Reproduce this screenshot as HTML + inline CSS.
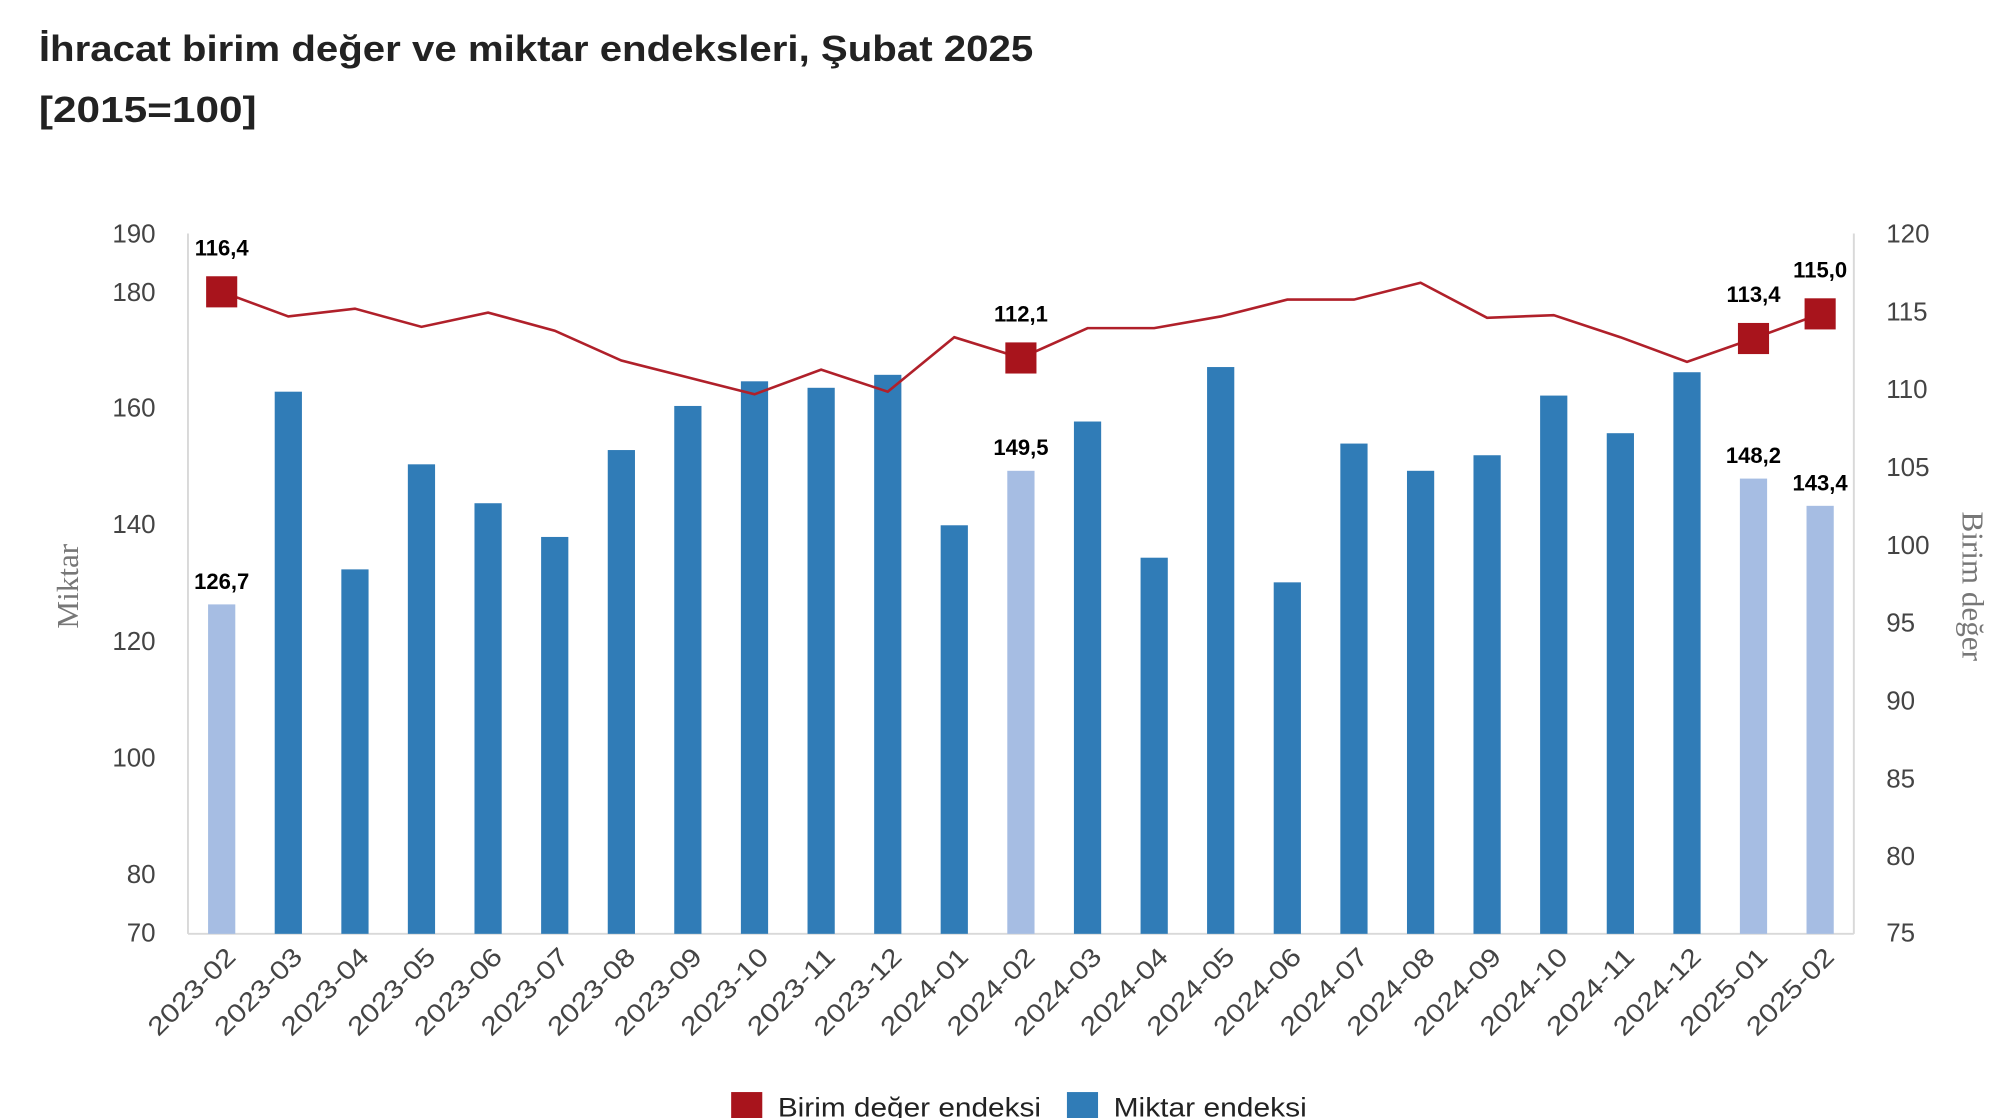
<!DOCTYPE html>
<html><head><meta charset="utf-8"><style>
html,body{margin:0;padding:0;background:#fff;}
svg{display:block;}
</style></head><body>
<svg width="2012" height="1118" viewBox="0 0 1552 862" preserveAspectRatio="none" xmlns="http://www.w3.org/2000/svg" font-family="Liberation Sans, sans-serif">
<text x="30" y="47" font-size="28" font-weight="bold" fill="#222" textLength="767" lengthAdjust="spacingAndGlyphs">İhracat birim değer ve miktar endeksleri, Şubat 2025</text>
<text x="30" y="94" font-size="28" font-weight="bold" fill="#222" textLength="168" lengthAdjust="spacingAndGlyphs">[2015=100]</text>
<line x1="145" y1="180" x2="145" y2="720" stroke="#d9d9d9" stroke-width="1.5"/>
<line x1="1430" y1="180" x2="1430" y2="720" stroke="#d9d9d9" stroke-width="1.5"/>
<line x1="145" y1="720" x2="1430" y2="720" stroke="#d9d9d9" stroke-width="1.5"/>
<g font-size="20" fill="#444" text-anchor="end">
<text x="120" y="187">190</text><text x="120" y="232">180</text><text x="120" y="321">160</text><text x="120" y="411">140</text><text x="120" y="501">120</text><text x="120" y="591">100</text><text x="120" y="681">80</text><text x="120" y="726">70</text>
</g>
<g font-size="20" fill="#444">
<text x="1455" y="187">120</text><text x="1455" y="247">115</text><text x="1455" y="307">110</text><text x="1455" y="367">105</text><text x="1455" y="427">100</text><text x="1455" y="487">95</text><text x="1455" y="547">90</text><text x="1455" y="607">85</text><text x="1455" y="667">80</text><text x="1455" y="726">75</text>
</g>
<text transform="translate(60,452) rotate(-90)" text-anchor="middle" font-family="Liberation Serif, serif" font-size="24" fill="#777">Miktar</text>
<text transform="translate(1514,452) rotate(90)" text-anchor="middle" font-family="Liberation Serif, serif" font-size="24" fill="#777">Birim değer</text>
<g fill="#307cb7">
<rect x="160.5" y="466" width="21" height="254" fill="#a6bde3"/>
<rect x="211.9" y="302" width="21" height="418"/>
<rect x="263.3" y="439" width="21" height="281"/>
<rect x="314.6" y="358" width="21" height="362"/>
<rect x="366" y="388" width="21" height="332"/>
<rect x="417.4" y="414" width="21" height="306"/>
<rect x="468.8" y="347" width="21" height="373"/>
<rect x="520.1" y="313" width="21" height="407"/>
<rect x="571.5" y="294" width="21" height="426"/>
<rect x="622.9" y="299" width="21" height="421"/>
<rect x="674.3" y="289" width="21" height="431"/>
<rect x="725.6" y="405" width="21" height="315"/>
<rect x="777" y="363" width="21" height="357" fill="#a6bde3"/>
<rect x="828.4" y="325" width="21" height="395"/>
<rect x="879.8" y="430" width="21" height="290"/>
<rect x="931.1" y="283" width="21" height="437"/>
<rect x="982.5" y="449" width="21" height="271"/>
<rect x="1033.9" y="342" width="21" height="378"/>
<rect x="1085.3" y="363" width="21" height="357"/>
<rect x="1136.6" y="351" width="21" height="369"/>
<rect x="1188" y="305" width="21" height="415"/>
<rect x="1239.4" y="334" width="21" height="386"/>
<rect x="1290.8" y="287" width="21" height="433"/>
<rect x="1342.1" y="369" width="21" height="351" fill="#a6bde3"/>
<rect x="1393.5" y="390" width="21" height="330" fill="#a6bde3"/>
</g>
<polyline fill="none" stroke="#b0202a" stroke-width="2" points="171,225 222.4,244 273.8,238 325.1,252 376.5,241 427.9,255 479.3,278 530.6,291 582,304 633.4,285 684.8,302 736.1,260 787.5,276 838.9,253 890.3,253 941.6,244 993,231 1044.4,231 1095.8,218 1147.1,245 1198.5,243 1249.9,260 1301.3,279 1352.6,261 1404,242"/>
<g fill="#a8141c">
<rect x="159" y="213" width="24" height="24"/>
<rect x="775.5" y="264" width="24" height="24"/>
<rect x="1340.6" y="249" width="24" height="24"/>
<rect x="1392" y="230" width="24" height="24"/>
</g>
<g font-size="17" font-weight="bold" fill="#000" text-anchor="middle">
<text x="171" y="197">116,4</text>
<text x="171" y="454">126,7</text>
<text x="787.5" y="248">112,1</text>
<text x="787.5" y="351">149,5</text>
<text x="1352.6" y="233">113,4</text>
<text x="1404" y="214">115,0</text>
<text x="1352.6" y="357">148,2</text>
<text x="1404" y="378">143,4</text>
</g>
<g font-size="20" fill="#444" text-anchor="end">
<text transform="translate(183,739) rotate(-45)" textLength="86" lengthAdjust="spacingAndGlyphs">2023-02</text>
<text transform="translate(234.4,739) rotate(-45)" textLength="86" lengthAdjust="spacingAndGlyphs">2023-03</text>
<text transform="translate(285.8,739) rotate(-45)" textLength="86" lengthAdjust="spacingAndGlyphs">2023-04</text>
<text transform="translate(337.1,739) rotate(-45)" textLength="86" lengthAdjust="spacingAndGlyphs">2023-05</text>
<text transform="translate(388.5,739) rotate(-45)" textLength="86" lengthAdjust="spacingAndGlyphs">2023-06</text>
<text transform="translate(439.9,739) rotate(-45)" textLength="86" lengthAdjust="spacingAndGlyphs">2023-07</text>
<text transform="translate(491.3,739) rotate(-45)" textLength="86" lengthAdjust="spacingAndGlyphs">2023-08</text>
<text transform="translate(542.6,739) rotate(-45)" textLength="86" lengthAdjust="spacingAndGlyphs">2023-09</text>
<text transform="translate(594,739) rotate(-45)" textLength="86" lengthAdjust="spacingAndGlyphs">2023-10</text>
<text transform="translate(645.4,739) rotate(-45)" textLength="86" lengthAdjust="spacingAndGlyphs">2023-11</text>
<text transform="translate(696.8,739) rotate(-45)" textLength="86" lengthAdjust="spacingAndGlyphs">2023-12</text>
<text transform="translate(748.1,739) rotate(-45)" textLength="86" lengthAdjust="spacingAndGlyphs">2024-01</text>
<text transform="translate(799.5,739) rotate(-45)" textLength="86" lengthAdjust="spacingAndGlyphs">2024-02</text>
<text transform="translate(850.9,739) rotate(-45)" textLength="86" lengthAdjust="spacingAndGlyphs">2024-03</text>
<text transform="translate(902.3,739) rotate(-45)" textLength="86" lengthAdjust="spacingAndGlyphs">2024-04</text>
<text transform="translate(953.6,739) rotate(-45)" textLength="86" lengthAdjust="spacingAndGlyphs">2024-05</text>
<text transform="translate(1005,739) rotate(-45)" textLength="86" lengthAdjust="spacingAndGlyphs">2024-06</text>
<text transform="translate(1056.4,739) rotate(-45)" textLength="86" lengthAdjust="spacingAndGlyphs">2024-07</text>
<text transform="translate(1107.8,739) rotate(-45)" textLength="86" lengthAdjust="spacingAndGlyphs">2024-08</text>
<text transform="translate(1159.1,739) rotate(-45)" textLength="86" lengthAdjust="spacingAndGlyphs">2024-09</text>
<text transform="translate(1210.5,739) rotate(-45)" textLength="86" lengthAdjust="spacingAndGlyphs">2024-10</text>
<text transform="translate(1261.9,739) rotate(-45)" textLength="86" lengthAdjust="spacingAndGlyphs">2024-11</text>
<text transform="translate(1313.3,739) rotate(-45)" textLength="86" lengthAdjust="spacingAndGlyphs">2024-12</text>
<text transform="translate(1364.6,739) rotate(-45)" textLength="86" lengthAdjust="spacingAndGlyphs">2025-01</text>
<text transform="translate(1416,739) rotate(-45)" textLength="86" lengthAdjust="spacingAndGlyphs">2025-02</text>
</g>
<rect x="564" y="842" width="24" height="24" fill="#a8141c"/>
<text x="600" y="861" font-size="21" fill="#222" textLength="203" lengthAdjust="spacingAndGlyphs">Birim değer endeksi</text>
<rect x="823" y="842" width="24" height="24" fill="#307cb7"/>
<text x="859" y="861" font-size="21" fill="#222" textLength="149" lengthAdjust="spacingAndGlyphs">Miktar endeksi</text>
</svg>
</body></html>
